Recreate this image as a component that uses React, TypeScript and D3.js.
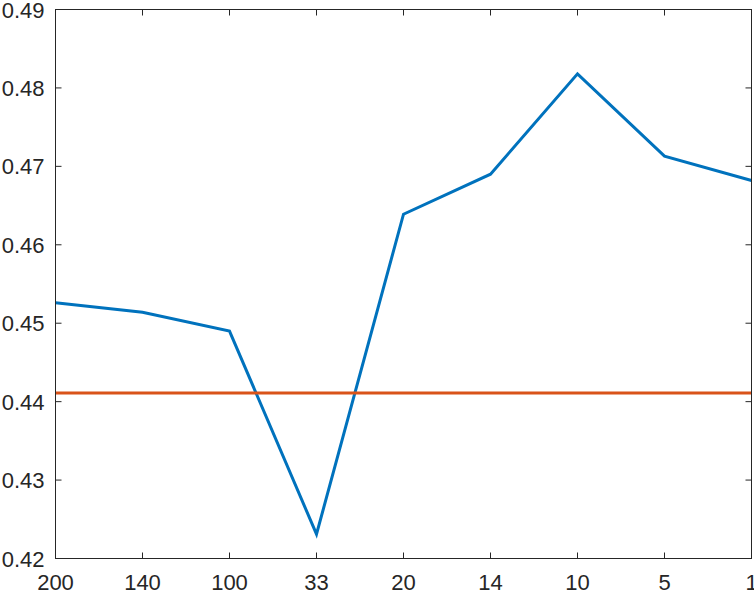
import React from "react";
import * as d3 from "d3";

const categories = ["200", "140", "100", "33", "20", "14", "10", "5", "1"];
const seriesValues = [0.4526, 0.4514, 0.4490, 0.4231, 0.4639, 0.4690, 0.4818, 0.4713, 0.4682];
const baselineValue = 0.4411;
const yTicks = [0.42, 0.43, 0.44, 0.45, 0.46, 0.47, 0.48, 0.49];

const W = 754;
const H = 593;
const M = { left: 55.5, right: 2.5, top: 9.5, bottom: 34.5 };

export default function App() {
  const x = d3
    .scalePoint<string>()
    .domain(categories)
    .range([M.left, W - M.right]);
  const y = d3.scaleLinear().domain([0.42, 0.49]).range([H - M.bottom, M.top]);
  const line = d3
    .line<number>()
    .x((_, i) => x(categories[i]) as number)
    .y((d) => y(d));
  const axisColor = "#262626";
  const font = "'Liberation Sans', Arial, sans-serif";
  const tl = 6;
  const fs = 22;
  return (
    <svg
      width={W}
      height={H}
      style={{ position: "absolute", left: 0, top: 0, background: "#fff" }}
      fontFamily={font}
    >
      <rect x={0} y={0} width={W} height={H} fill="#fff" />
      {yTicks.map((t) => (
        <g key={"y" + t}>
          <line x1={M.left} x2={M.left + tl} y1={y(t)} y2={y(t)} stroke={axisColor} />
          <line x1={W - M.right} x2={W - M.right - tl} y1={y(t)} y2={y(t)} stroke={axisColor} />
          <text
            x={M.left - 11}
            y={y(t) + 8}
            textAnchor="end"
            fontSize={fs}
            fill={axisColor}
          >
            {t.toFixed(2)}
          </text>
        </g>
      ))}
      {categories.map((c) => (
        <g key={"x" + c}>
          <line x1={x(c)} x2={x(c)} y1={H - M.bottom} y2={H - M.bottom - tl} stroke={axisColor} />
          <line x1={x(c)} x2={x(c)} y1={M.top} y2={M.top + tl} stroke={axisColor} />
          <text
            x={x(c)}
            y={H - M.bottom + 31.5}
            textAnchor="middle"
            fontSize={fs}
            fill={axisColor}
          >
            {c}
          </text>
        </g>
      ))}
      <path
        d={line(seriesValues) || ""}
        fill="none"
        stroke="#0072BD"
        strokeWidth={3}
        strokeLinejoin="miter"
      />
      <line
        x1={M.left}
        x2={W - M.right}
        y1={y(baselineValue)}
        y2={y(baselineValue)}
        stroke="#D95319"
        strokeWidth={3}
      />
      <rect
        x={M.left}
        y={M.top}
        width={W - M.left - M.right}
        height={H - M.top - M.bottom}
        fill="none"
        stroke={axisColor}
        strokeWidth={1}
      />
    </svg>
  );
}
